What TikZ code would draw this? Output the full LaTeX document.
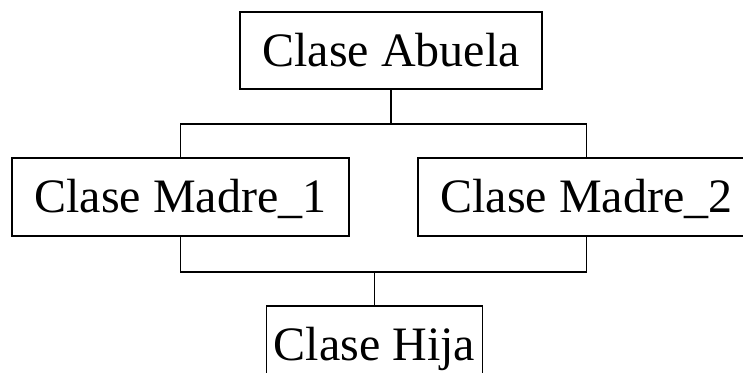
\documentclass[tikz,border=0pt]{standalone}
\usepackage{fontspec}
\setmainfont{Liberation Serif}
\begin{document}
\begin{tikzpicture}[x=1pt,y=1pt,
  cls/.style={draw=black, line width=1.3pt, rectangle, inner sep=0pt,
    font=\fontsize{48}{58}\selectfont, text height=31.8pt, text depth=0pt},
  conn/.style={draw=black, line width=1.3pt}]
\useasboundingbox (0,0) rectangle (743,-372);
\clip (0,0) rectangle (743,-372);
\node[cls, minimum width=302pt, minimum height=77pt] (abuela) at (391,-50.5) {Clase Abuela};
\node[cls, minimum width=337pt, minimum height=78pt] (m1) at (180.5,-197) {Clase Madre\_1};
\node[cls, minimum width=337pt, minimum height=78pt] (m2) at (586.5,-197) {Clase Madre\_2};
\node[cls, minimum width=216pt, minimum height=78pt] (hija) at (374.5,-345) {Clase Hija};
\coordinate (top) at (391,-124);
\coordinate (bot) at (374.5,-272);
\draw[conn] (abuela.south) -- (top);
\draw[conn] (m1.north) |- (top) -| (m2.north);
\draw[conn] (m1.south) |- (bot) -| (m2.south);
\draw[conn] (bot) -- (hija.north);
\end{tikzpicture}
\end{document}
